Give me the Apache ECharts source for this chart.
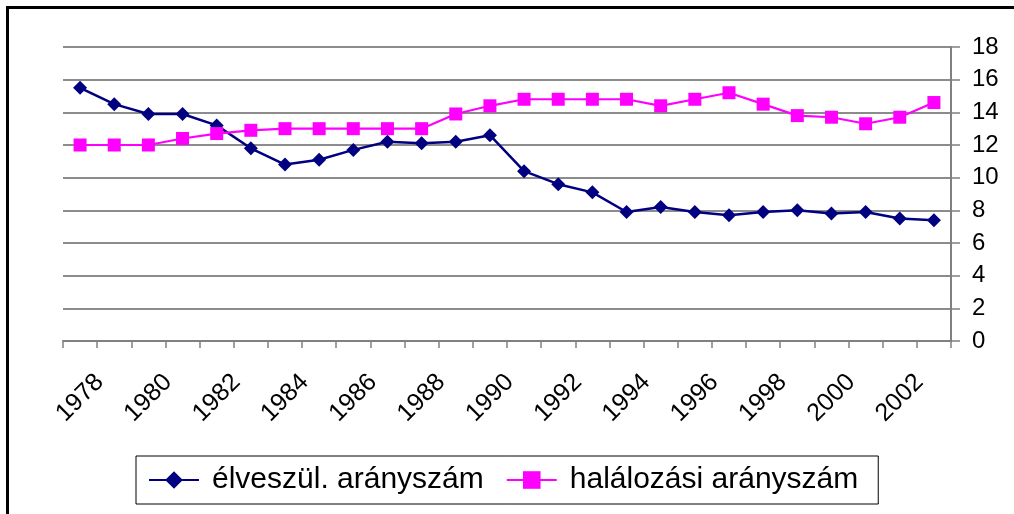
<!DOCTYPE html>
<html>
<head>
<meta charset="utf-8">
<script src="https://cdn.jsdelivr.net/npm/echarts@6/dist/echarts.min.js"></script>
<style>
html,body{margin:0;padding:0;background:#fff;}
#chart{width:1014px;height:514px;}
</style>
</head>
<body>
<div id="chart"></div>
<script>
const years = ['1978','1979','1980','1981','1982','1983','1984','1985','1986','1987','1988','1989','1990','1991','1992','1993','1994','1995','1996','1997','1998','1999','2000','2001','2002','2003'];
const birthRate = [15.5,14.5,13.9,13.9,13.2,11.8,10.8,11.1,11.7,12.2,12.1,12.2,12.6,10.4,9.6,9.1,7.9,8.2,7.9,7.7,7.9,8.0,7.8,7.9,7.5,7.4];
const deathRate = [12.0,12.0,12.0,12.4,12.7,12.9,13.0,13.0,13.0,13.0,13.0,13.9,14.4,14.8,14.8,14.8,14.8,14.4,14.8,15.2,14.5,13.8,13.7,13.3,13.7,14.6];
const seriesNames = ['élveszül. arányszám','halálozási arányszám'];

const chart = echarts.init(document.getElementById('chart'), null, {renderer:'canvas'});
const font = 'Arial, "Liberation Sans", sans-serif';
chart.setOption({
  animation:false,
  backgroundColor:'#fff',
  graphic:[{
    type:'rect', left:5, top:5, z:100, silent:true,
    shape:{x:0,y:0,width:1040,height:540},
    style:{fill:null, stroke:'#000', lineWidth:3}
  }],
  grid:{left:63, right:63, top:47, bottom:173},
  legend:{
    left:136, top:456,
    orient:'horizontal',
    itemWidth:50, itemHeight:22, itemGap:22,
    padding:[5,20,5,12],
    borderColor:'#000', borderWidth:1,
    textStyle:{fontFamily:font, fontSize:30, color:'#000', lineHeight:38, padding:[0,0,0,8]},
    data:seriesNames
  },
  xAxis:{
    type:'category', data:years, boundaryGap:true,
    axisLine:{lineStyle:{color:'#808080', width:2}},
    axisTick:{show:true, interval:0, length:7, lineStyle:{color:'#808080', width:1.5}},
    axisLabel:{interval:1, rotate:45, align:'center', verticalAlign:'middle', margin:57,
      fontFamily:font, fontSize:25, color:'#000'},
    splitLine:{show:false}
  },
  yAxis:{
    type:'value', position:'right', min:0, max:18, interval:2,
    axisLine:{show:true, lineStyle:{color:'#808080', width:2}},
    axisTick:{show:true, length:9, lineStyle:{color:'#808080', width:1.5}},
    axisLabel:{margin:21, fontFamily:font, fontSize:24, color:'#000'},
    splitLine:{show:true, lineStyle:{color:'#666', width:1.5}}
  },
  series:[
    {name:seriesNames[0], type:'line', data:birthRate,
      symbol:'diamond', symbolSize:14,
      itemStyle:{color:'#000080'}, lineStyle:{color:'#000080', width:2.5}},
    {name:seriesNames[1], type:'line', data:deathRate,
      symbol:'rect', symbolSize:13,
      itemStyle:{color:'#FF00FF'}, lineStyle:{color:'#FF00FF', width:2.2}}
  ]
});
</script>
</body>
</html>
